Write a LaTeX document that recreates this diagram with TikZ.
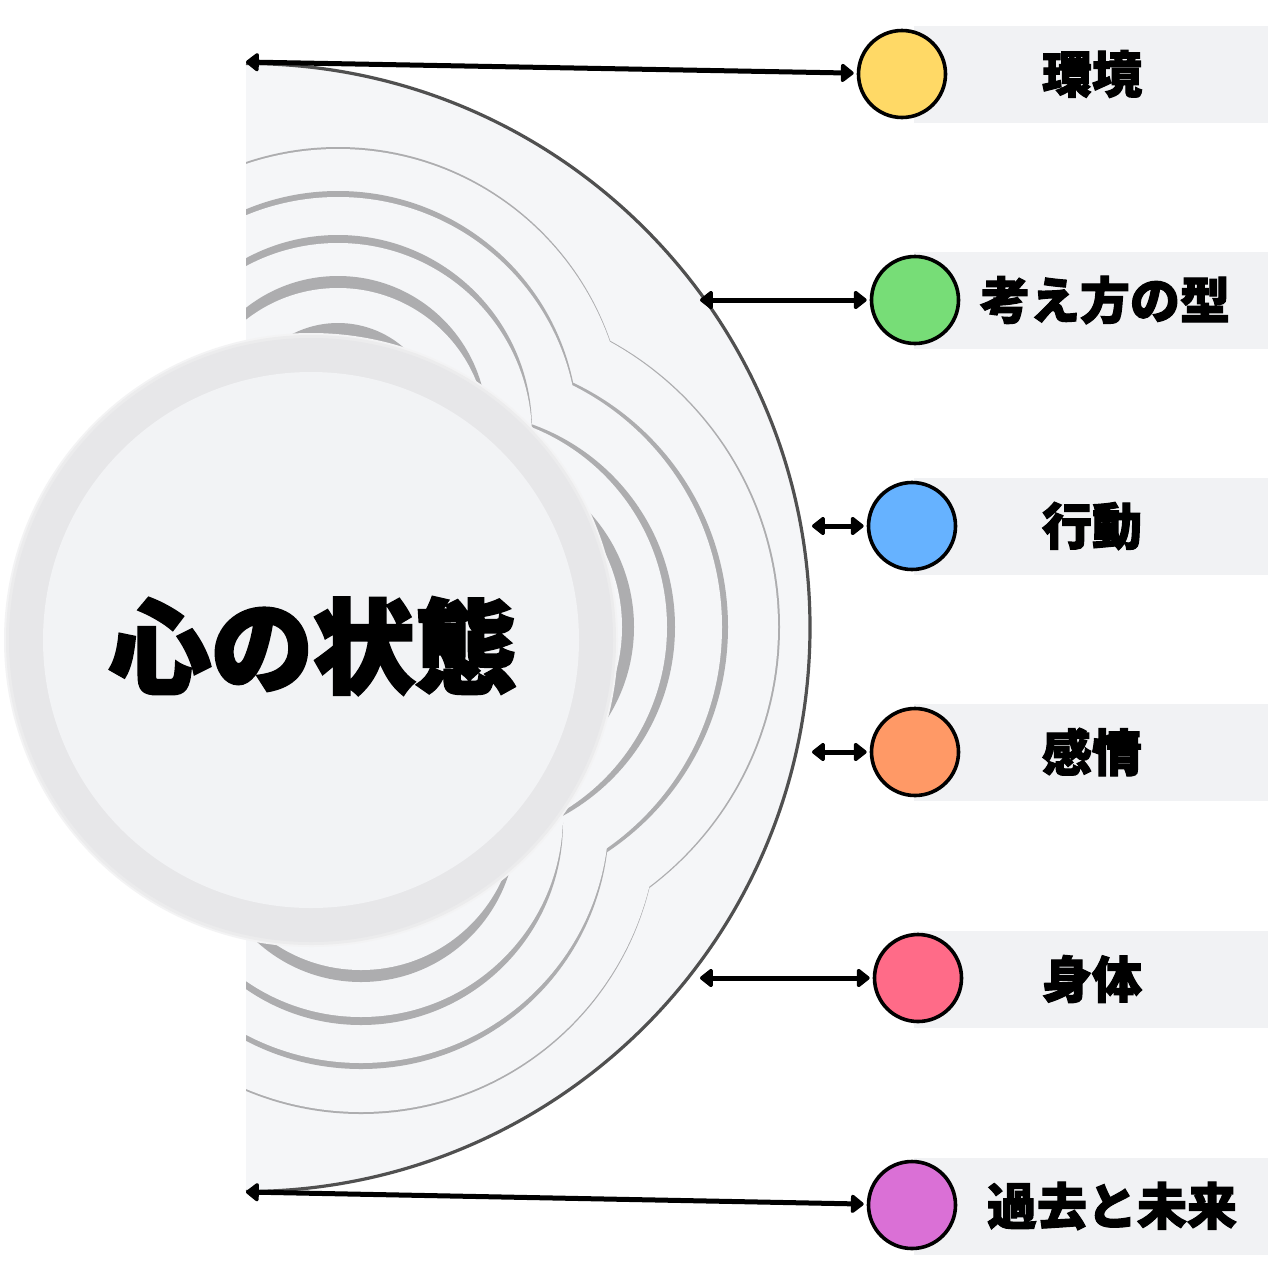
\documentclass[tikz,border=0pt]{standalone}
\usepackage{fontspec}
\usetikzlibrary{arrows.meta}
\IfFontExistsTF{Noto Sans CJK JP Black}
  {\newfontfamily\jpfont{Noto Sans CJK JP Black}[FakeBold=2.2]
   \newfontfamily\jptitle{Noto Sans CJK JP Black}[FakeBold=3]}
  {\newfontfamily\jpfont{Noto Sans CJK JP Bold}[FakeBold=5]
   \newfontfamily\jptitle{Noto Sans CJK JP Bold}[FakeBold=6]}
\definecolor{halffill}{HTML}{F5F6F8}
\definecolor{halfline}{HTML}{505050}
\definecolor{ripple}{HTML}{ADADAF}
\definecolor{ringc}{HTML}{E7E7E9}
\definecolor{corec}{HTML}{F2F3F5}
\definecolor{tagbg}{HTML}{F1F2F4}
\definecolor{cyellow}{HTML}{FFD966}
\definecolor{cgreen}{HTML}{77DD77}
\definecolor{cblue}{HTML}{66B2FF}
\definecolor{corange}{HTML}{FF9966}
\definecolor{cpink}{HTML}{FF6B88}
\definecolor{cpurple}{HTML}{DA70D6}
\begin{document}
\begin{tikzpicture}[x=1pt,y=-1pt,
  tagbox/.style={rectangle, fill=tagbg, minimum width=354pt, minimum height=97pt, inner sep=0pt},
  tagtext/.style={font=\jpfont\fontsize{50}{50}\selectfont, inner sep=0pt},
  dot/.style={circle, draw=black, line width=3.6pt, minimum size=87pt, inner sep=0pt},
  biarrow/.style={{Triangle[length=14pt,width=21pt,round]}-{Triangle[length=14pt,width=21pt,round]}, line width=5pt, black, shorten >=3pt},
  bigtext/.style={font=\jptitle\fontsize{102}{102}\selectfont, inner sep=0pt}]
\useasboundingbox (0,0) rectangle (1280,1280);
\fill[white] (0,0) rectangle (1280,1280);

% half disc
\fill[halffill] (246,1191.5) arc[start angle=-90,end angle=90,radius=564pt] -- cycle;
\begin{scope}
  \clip (246,1191.5) arc[start angle=-90,end angle=90,radius=564pt] -- cycle;
  \foreach \rt/\rr/\rb/\d in {288pt/326pt/297pt/2, 240pt/270pt/248pt/6, 194pt/215pt/202pt/8, 149pt/170pt/155pt/12}{
    \fill[ripple] (338,{437-\d}) circle[radius=\rt] ({452+\d},627) circle[radius=\rr] (361,{815+\d}) circle[radius=\rb];
    \fill[halffill] (338,437) circle[radius=\rt] (452,627) circle[radius=\rr] (361,815) circle[radius=\rb];
  }
  \fill[ripple] (338,423) circle[radius=100pt];
  \fill[halffill] (338,437) circle[radius=100pt];
\end{scope}
\draw[halfline, line width=3.2pt] (246,1191.5) arc[start angle=-90,end angle=90,radius=564pt];

% central circle
\fill[ringc!50!white] (311,640) circle[radius=307pt];
\fill[ringc!80!white] (311,640) circle[radius=305pt];
\node[circle, fill=ringc, minimum size=604pt, inner sep=0pt] (core) at (311,640) {};
\fill[corec] (core.center) circle[radius=268pt];
\node[bigtext] (title) at (313,646) {心の状態};

% tags
\node[tagbox] (r1) at (1091,74) {};
\node[tagbox] (r2) at (1091,300) {};
\node[tagbox] (r3) at (1091,526) {};
\node[tagbox] (r4) at (1091,752) {};
\node[tagbox] (r5) at (1091,979) {};
\node[tagbox] (r6) at (1091,1206) {};

\node[tagtext] (t1) at (1092,74) {環境};
\node[tagtext] (t2) at (1105,300) {考え方の型};
\node[tagtext] (t3) at (1092,526) {行動};
\node[tagtext] (t4) at (1092,752) {感情};
\node[tagtext] (t5) at (1092,979) {身体};
\node[tagtext] (t6) at (1112,1206) {過去と未来};

\node[dot, fill=cyellow] (c1) at (902,74) {};
\node[dot, fill=cgreen] (c2) at (915,300) {};
\node[dot, fill=cblue] (c3) at (912,526) {};
\node[dot, fill=corange] (c4) at (915,752) {};
\node[dot, fill=cpink] (c5) at (918,978) {};
\node[dot, fill=cpurple] (c6) at (912,1205) {};

% connectors
\coordinate (e1) at (246,62);
\coordinate (e2) at (700,300);
\coordinate (e3) at (812,526);
\coordinate (e4) at (812,752);
\coordinate (e5) at (700,978);
\coordinate (e6) at (246,1192);
\draw[biarrow] (e1) -- (c1);
\draw[biarrow] (e2) -- (c2);
\draw[biarrow] (e3) -- (c3);
\draw[biarrow] (e4) -- (c4);
\draw[biarrow] (e5) -- (c5);
\draw[biarrow] (e6) -- (c6);
\end{tikzpicture}
\end{document}
